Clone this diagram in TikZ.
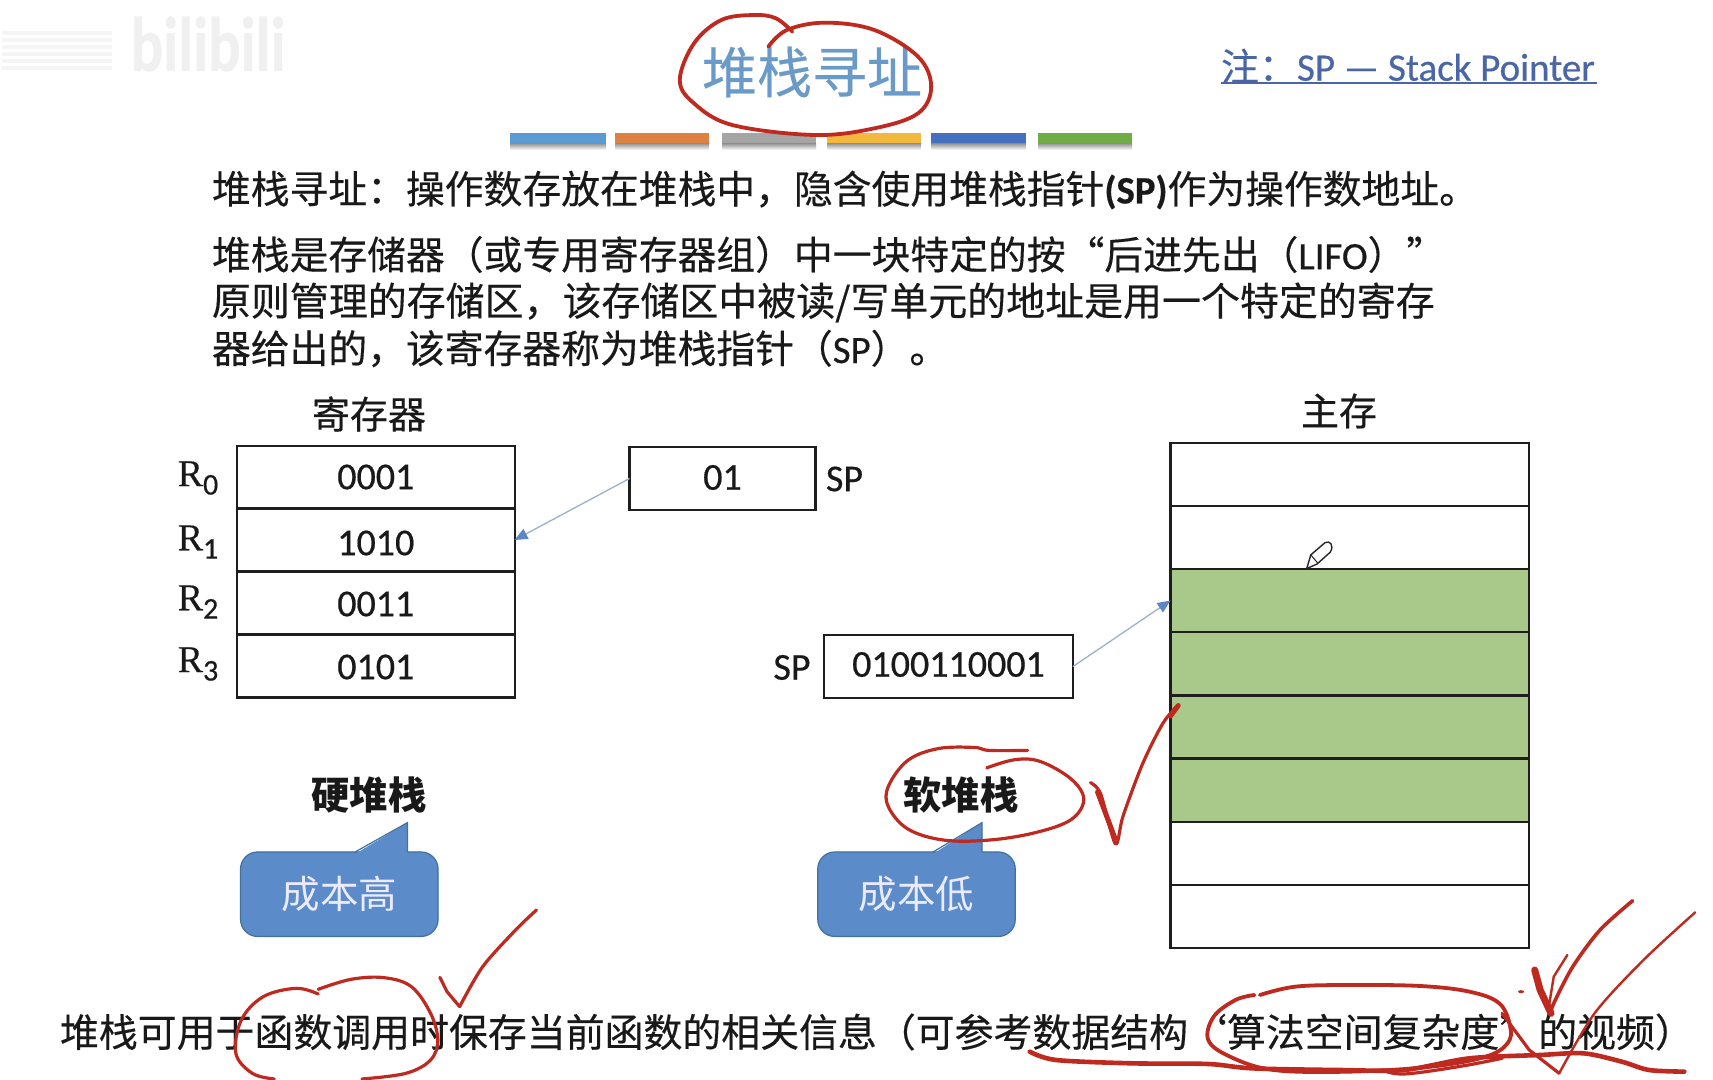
\documentclass[tikz,border=0pt]{standalone}
\usepackage{fontspec}
\setmainfont{Carlito}
\newfontfamily\cjk[FakeBold=0.35]{Noto Sans CJK SC}
\newfontfamily\cjkb{Noto Sans CJK SC}
\newfontfamily\lat[FakeBold=0.5]{Carlito}
\newfontfamily\serifr[FakeBold=0.3]{Liberation Serif}
\usetikzlibrary{arrows.meta}
\definecolor{ink}{HTML}{BE2A20}
\definecolor{boxline}{HTML}{1E1E1E}
\definecolor{greencell}{HTML}{A9C98A}
\definecolor{calfill}{HTML}{5B8BC9}
\definecolor{calline}{HTML}{41719C}
\definecolor{arrowline}{HTML}{9DB0C8}
\definecolor{arrowtip}{HTML}{5C86C4}
\definecolor{titleblue}{HTML}{6A9AC8}
\definecolor{noteblue}{HTML}{4A66A6}
\newcommand{\fs}[1]{\fontsize{#1}{#1}\selectfont}
\newcommand{\subd}[1]{\raisebox{-.22em}{\lat\fs{30}#1}}
\newcommand{\nudge}[2]{\raisebox{#1}[\height][\depth]{#2}}
\tikzset{
  every node/.style={inner sep=0pt,outer sep=0pt,text=black!90},
  cell/.style={draw=boxline,line width=2.2pt,minimum width=277.6pt,minimum height=62.8pt,font=\lat\fs{38}},
  memcell/.style={draw=boxline,line width=2.2pt,minimum width=358.5pt,minimum height=63pt},
  usedcell/.style={memcell,fill=greencell},
  regbox/.style={draw=boxline,line width=2.2pt,font=\lat\fs{38}},
  body/.style={anchor=west,font=\cjk\fs{38.8}},
  head/.style={font=\cjk\fs{38}},
  headb/.style={font=\cjkb\bfseries\fs{38.3}},
  reglabel/.style={font=\serifr\fs{38}},
  splabel/.style={font=\lat\fs{38}},
  callbody/.style={draw=calline,line width=1.2pt,fill=calfill,rounded corners=17pt,minimum height=84.5pt,font=\cjkb\fs{38.5},text=white!92!blue},
  ptr/.style={draw=arrowline,line width=1.3pt,-{Triangle[length=13pt,width=11pt,fill=arrowtip,color=arrowtip]}},
  inkline/.style={draw=ink,line width=3.2pt,line cap=round,line join=round},
}
\begin{document}
\begin{tikzpicture}[x=1pt,y=-1pt]
\useasboundingbox (0,0) rectangle (1713,1079);
\fill[white] (0,0) rectangle (1713,1079);

% faint watermark
\node[font=\lat\bfseries\fs{62},text=black!6,xscale=.98,yscale=1.25] (wm) at (208,44) {bilibili};
\foreach \ya in {31,38,45,52,59,66}{\fill[black!4] (2,\ya) rectangle (112,\ya+3.5);}

% title + note
\node[font=\cjk\fs{55},text=titleblue] (title) at (812,72) {堆栈寻址};
\node[anchor=west,font=\lat\fs{39},text=noteblue] (note) at (1221,66) {{\cjk\fs{38}注：}SP — Stack Pointer};
\draw[noteblue,line width=2.8pt] (1221,83) -- (1597,83);

% colour bars
\foreach \xa/\bw/\col in {510/96/5B9BD5,615/94/DD8240,722/94/A5A5A5,827/94/F2B93F,931/95/4470BF,1038/94/70AD47}{
  \shade[top color=black!45,bottom color=white] (\xa,143) rectangle ++(\bw,7);
  \definecolor{tmpc}{HTML}{\col}
  \fill[tmpc] (\xa,133) rectangle ++(\bw,10);
}

% body text
\node[body] (l1) at (212,190) {堆栈寻址：操作数存放在堆栈中，隐含使用堆栈指针{\lat\bfseries (SP)}作为操作数地址。};
\node[body] (l2) at (212,254.5) {堆栈是存储器（或专用寄存器组）中一块特定的按“后进先出（{\lat LIFO}）”};
\node[body,font=\cjk\fs{38.95}] (l3) at (212,302.5) {原则管理的存储区，该存储区中被读/写单元的地址是用一个特定的寄存};
\node[body] (l4) at (212,348.5) {器给出的，该寄存器称为堆栈指针（{\lat SP}）。};

% registers
\node[head] (reghead) at (369,414) {寄存器};
\node[cell] (r0) at (375.8,477) {0001};
\node[cell] (r1) at (375.8,540) {\nudge{-3pt}{1010}};
\node[cell] (r2) at (375.8,603) {\nudge{-1pt}{0011}};
\node[cell] (r3) at (375.8,666) {\nudge{-1pt}{0101}};
\node[reglabel] (lr0) at (198,478) {R\subd{0}};
\node[reglabel] (lr1) at (198,542) {R\subd{1}};
\node[reglabel] (lr2) at (198,602) {R\subd{2}};
\node[reglabel] (lr3) at (198,664) {R\subd{3}};

% SP boxes
\node[regbox,minimum width=186pt,minimum height=63.5pt] (spa) at (722.5,478.5) {\nudge{1pt}{01}};
\node[splabel] (spal) at (844.5,479) {SP};
\node[regbox,minimum width=249pt,minimum height=63pt] (spb) at (948.5,666.5) {\nudge{2pt}{0100110001}};
\node[splabel] (spbl) at (792,667.5) {SP};

% memory
\node[head] (memhead) at (1339,411) {主存};
\node[memcell] (m0) at (1349.8,474.3) {};
\node[memcell] (m1) at (1349.8,537.3) {};
\node[usedcell] (m2) at (1349.8,600.5) {};
\node[usedcell] (m3) at (1349.8,663.5) {};
\node[usedcell] (m4) at (1349.8,727) {};
\node[usedcell] (m5) at (1349.8,790.5) {};
\node[memcell] (m6) at (1349.8,853.5) {};
\node[memcell] (m7) at (1349.8,916.5) {};

% pointers
\draw[ptr] (spa.west) -- (r1.east);
\draw[ptr] (spb.east) -- (m2.west);

% stack labels + callouts
\node[headb] (hard) at (369,795) {硬堆栈};
\node[headb] (soft) at (961,795) {软堆栈};
\node[callbody,minimum width=197.5pt] (chigh) at (339.3,894.2) {成本高};
\node[callbody,minimum width=197.5pt] (clow) at (916.5,894.2) {成本低};
\coordinate (thigh) at (407.5,822.6);
\coordinate (tlow) at (982,822.6);
\fill[calfill] (355,854) -- (thigh) -- (407.5,854) -- cycle;
\draw[calline,line width=1.2pt] (355,852) -- (thigh) -- (407.5,852);
\fill[calfill] (933,854) -- (tlow) -- (982,854) -- cycle;
\draw[calline,line width=1.2pt] (933,852) -- (tlow) -- (982,852);

% bottom text
\node[body,font=\cjk\fs{38.9}] (bot) at (60,1032) {堆栈可用于函数调用时保存当前函数的相关信息（可参考数据结构‘算法空间复杂度’的视频）};

% pen cursor (zoom 3 coordinates)
\begin{scope}[shift={(770,390)},x=0.5102pt,y=-0.3704pt]
\draw[fill=white,draw=black!85,line width=1.4pt,line join=round]
  (1052,482) -- (1060,445) -- (1088,412) .. controls (1098,405) and (1106,420) .. (1098,438) -- (1072,470) -- cycle;
\draw[black!85,line width=1pt] (1060,445) -- (1074,468);
% ink near soft stack
\draw[inkline] plot[smooth,tension=.6] coordinates {(425,1020) (480,998) (530,1003) (590,1050) (615,1105) (590,1160) (520,1195) (430,1215) (340,1215) (270,1185) (232,1125) (232,1070) (270,1000) (330,968) (400,965) (430,973) (505,973)};
\draw[inkline] plot[smooth,tension=.5] coordinates {(628,1060) (648,1090) (677,1225) (692,1150) (730,1010) (770,900) (800,850)};
\draw[inkline,line width=5pt] (642,1085) -- (676,1210);
\draw[inkline,line width=5pt] (785,880) -- (800,852);
\end{scope}

% title ink (zoom 1 coordinates)
\begin{scope}[x=1.0929pt,y=-0.3333pt]
\draw[inkline,line width=3.8pt] plot[smooth,tension=.6] coordinates {(703,140) (720,90) (755,68) (800,90) (840,170) (852,260) (840,340) (800,385) (745,405) (670,375) (635,310) (622,240) (635,130) (660,60) (690,45) (710,55) (725,95)};
\end{scope}

% bottom left ink (zoom 4 coordinates)
\begin{scope}[shift={(0,880)},x=0.5485pt,y=-0.3333pt]
\draw[inkline] plot[smooth,tension=.5] coordinates {(978,90) (940,150) (880,260) (838,380)};
\draw[inkline] (838,380) -- (815,335) -- (802,292);
\draw[inkline] plot[smooth,tension=.6] coordinates {(580,328) (640,298) (700,293) (750,320) (785,400) (798,480) (785,540) (740,580) (660,597)};
\draw[inkline] plot[smooth,tension=.6] coordinates {(500,597) (460,580) (430,520) (440,420) (480,350) (540,325) (580,342)};
\end{scope}

% bottom right ink (zoom 5 coordinates)
\begin{scope}[shift={(860,880)},x=0.5441pt,y=-0.3333pt]
\draw[inkline,line width=4.6pt] plot[smooth,tension=.5] coordinates {(312,515) (360,540) (500,550) (640,552) (720,565) (880,570) (1000,570) (1120,535) (1250,525) (1330,520) (1400,545) (1450,570) (1515,575)};
\draw[inkline,line width=3.8pt] plot[smooth,tension=.6] coordinates {(735,345) (800,320) (900,315) (1030,318) (1120,335) (1175,370) (1195,440) (1190,490) (1150,530) (1050,560) (900,575) (760,570) (680,530) (640,480) (650,410) (690,360) (725,345)};
\draw[inkline] plot[smooth,tension=.6] coordinates {(960,570) (1000,582) (1100,560) (1180,535)};
\draw[inkline,line width=3.6pt] plot[smooth,tension=.5] coordinates {(1420,62) (1360,150) (1310,260) (1275,370) (1270,400)};
\draw[inkline,line width=7pt] (1270,400) -- (1250,330) -- (1240,270);
\draw[inkline,line width=2.4pt] plot[smooth,tension=.5] coordinates {(1535,97) (1440,240) (1350,400) (1285,580)};
\draw[inkline] (1285,580) -- (1230,510) -- (1180,400);
\draw[inkline,line width=2.4pt] (1300,225) -- (1275,290) -- (1265,390);
\fill[ink] (1215,335) circle[x radius=3pt,y radius=1.5pt];
\end{scope}
\end{tikzpicture}
\end{document}
